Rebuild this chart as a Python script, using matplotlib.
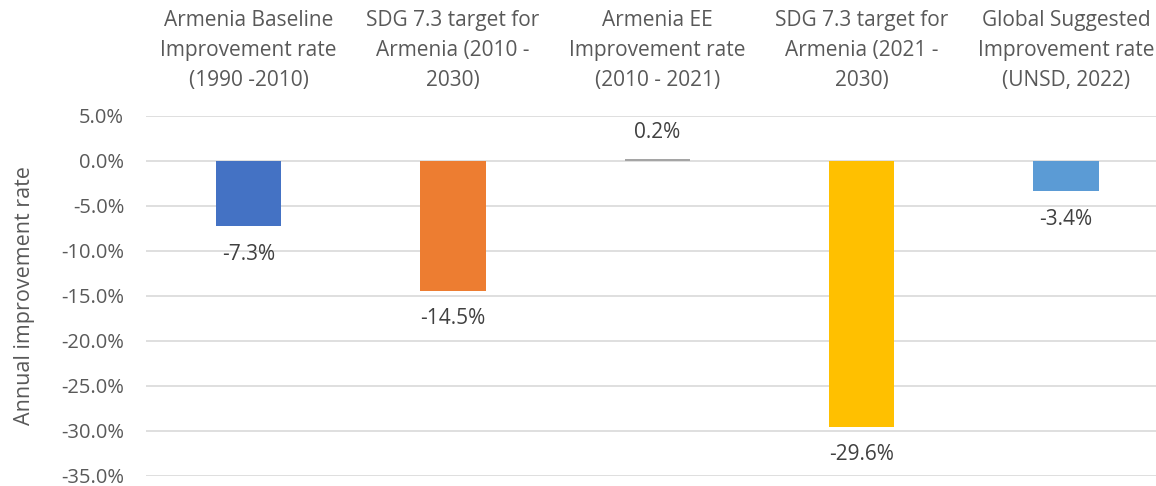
import matplotlib
matplotlib.use("Agg")
import matplotlib.pyplot as plt
from matplotlib.ticker import FuncFormatter, MultipleLocator

plt.rcParams['font.family'] = ['Open Sans', 'DejaVu Sans']

# data
categories = [
    "Armenia Baseline\nImprovement rate\n(1990 -2010)",
    "SDG 7.3 target for\nArmenia (2010 -\n2030)",
    "Armenia EE\nImprovement rate\n(2010 - 2021)",
    "SDG 7.3 target for\nArmenia (2021 -\n2030)",
    "Global Suggested\nImprovement rate\n(UNSD, 2022)",
]
rates = [-7.3, -14.5, 0.2, -29.6, -3.4]
labels = ["-7.3%", "-14.5%", "0.2%", "-29.6%", "-3.4%"]
colors = ["#4472C4", "#ED7D31", "#A5A5A5", "#FFC000", "#5B9BD5"]

TEXT = "#595959"
W, H = 1156, 486
FS = 15

fig = plt.figure(figsize=(W / 100, H / 100), dpi=100)
# plot area runs a bit past the right edge, like the cropped original
left, right = 146.4 / W, 1168 / W
top, bottom = 1 - 115.7 / H, 1 - 475.7 / H
ax = fig.add_axes([left, bottom, right - left, top - bottom])

x = list(range(len(rates)))
ax.bar(x, rates, width=0.32, color=colors, zorder=3)

ax.set_xlim(-0.5, len(rates) - 0.5)
ax.set_ylim(-35, 5)
ax.yaxis.set_major_locator(MultipleLocator(5))
ax.yaxis.set_major_formatter(FuncFormatter(lambda v, p: f"{v:.1f}%"))
ax.grid(axis="y", color="#D9D9D9", linewidth=1.2, zorder=0)

ax.xaxis.tick_top()
ax.set_xticks(x)
ax.set_xticklabels(categories, fontsize=FS, color=TEXT, linespacing=1.56)
ax.tick_params(axis="x", length=0, pad=18)
ax.tick_params(axis="y", length=0, pad=16, labelsize=FS - 0.5, labelcolor=TEXT)

for s in ax.spines.values():
    s.set_visible(False)

ax.set_ylabel("Annual improvement rate", fontsize=FS + 0.5, color=TEXT, labelpad=19)

# data labels
for xi, v, lab in zip(x, rates, labels):
    off = 19 if v > 0 else -20
    ax.annotate(lab, (xi, v), xytext=(0, off), textcoords="offset points",
                ha="center", va="center", fontsize=FS, color="#404040")

fig.savefig("out.png", dpi=100)
